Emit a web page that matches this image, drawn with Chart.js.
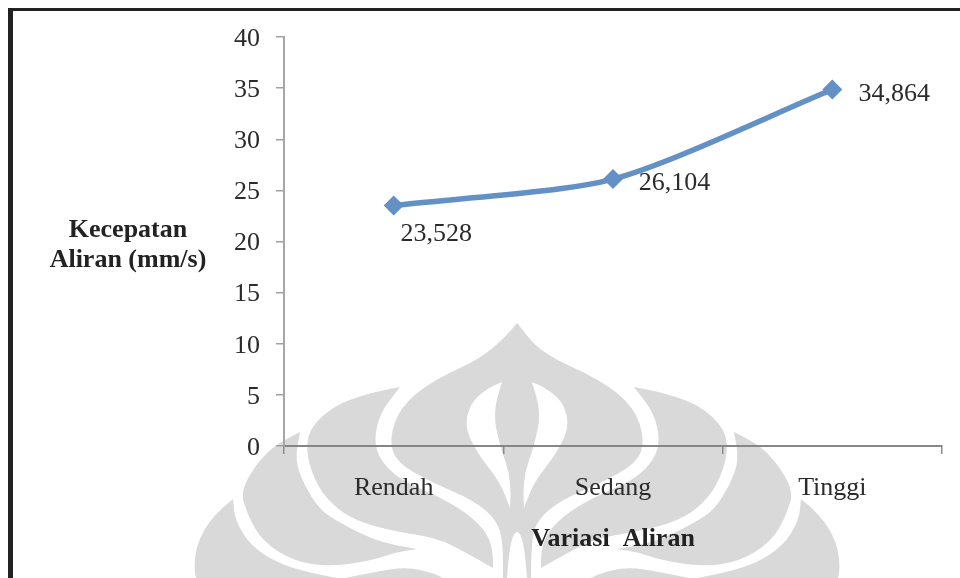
<!DOCTYPE html>
<html>
<head>
<meta charset="utf-8">
<title>Kecepatan Aliran</title>
<script src="https://cdn.jsdelivr.net/npm/chart.js@4"></script>
<style>
    html, body { margin: 0; padding: 0; background: #fff; overflow: hidden; }
    #wadah { position: relative; width: 960px; height: 578px; }
    #grafik { position: absolute; left: 0; top: 0; }
    /* garis tepi halaman, kiri dan atas saja */
    #tepi { position: absolute; left: 8px; top: 8px; right: 0; bottom: 0; border-left: 5px solid #222; border-top: 3px solid #222; }
</style>
</head>
<body>
<div id="wadah">
    <canvas id="grafik" width="960" height="578"></canvas>
    <div id="tepi"></div>
</div>
<script>
const kategori = ['Rendah', 'Sedang', 'Tinggi'];
const kecepatan = [23.528, 26.104, 34.864];
const labelNilai = ['23,528', '26,104', '34,864'];
const judulX = 'Variasi  Aliran';
const judulY = ['Kecepatan', 'Aliran (mm/s)'];

const FONT = '"Liberation Serif", "Times New Roman", serif';
const WARNA_TEKS = '#2b2b2b';

// Logo latar: tiap bagian berisi ruas-ruas kurva, titik sudut ada di ujung ruas
const logoKiri = [
    [[[233, 499], [213, 515], [197, 543], [194, 567], [196, 578]],
     [[196, 578], [337, 578]],
     [[337, 578], [310, 573], [277, 563], [250, 545], [235, 520], [233, 499]]],
    [[[345, 578], [373, 572], [407, 567], [433, 573], [443, 578]]],
    [[[300, 432], [277, 443], [257, 463], [243, 487], [243, 500]],
     [[243, 500], [250, 523], [270, 548], [303, 564], [337, 566], [373, 560], [397, 552], [417, 549]],
     [[417, 549], [393, 545], [370, 538], [340, 523], [320, 510], [304, 485], [295, 460], [300, 432]]],
    [[[400, 387], [350, 396], [312, 423], [305, 450], [317, 487], [338, 510], [360, 522], [393, 531], [437, 538], [465, 552], [493, 568]],
     [[493, 568], [494, 543], [473, 517], [440, 497], [400, 480], [380, 460], [374, 440], [380, 413], [400, 387]]]
];
// Kubah tengah sisi kiri, dari puncak sampai kaki menara putih
const kubahKiri = [[517, 323], [493, 353], [433, 380], [400, 407], [389, 440], [397, 463], [433, 483], [473, 500], [497, 520], [503, 543], [503, 578]];
const celahKiri = [
    [[502, 382], [477, 392], [463, 423], [477, 453], [500, 482], [510, 508]],
    [[510, 508], [512, 480], [500, 447], [493, 413], [502, 382]]
];
const SUMBU_LOGO = 1034;

function kurva(ctx, titik, cermin) {
    const px = p => cermin ? SUMBU_LOGO - p[0] : p[0];
    for (let i = 1; i < titik.length - 1; i++) {
        const mx = (px(titik[i]) + px(titik[i + 1])) / 2;
        const my = (titik[i][1] + titik[i + 1][1]) / 2;
        ctx.quadraticCurveTo(px(titik[i]), titik[i][1], mx, my);
    }
    const akhir = titik[titik.length - 1];
    ctx.lineTo(px(akhir), akhir[1]);
}

function isiBagian(ctx, ruas, cermin) {
    ctx.beginPath();
    ctx.moveTo(cermin ? SUMBU_LOGO - ruas[0][0][0] : ruas[0][0][0], ruas[0][0][1]);
    ruas.forEach(r => kurva(ctx, r, cermin));
    ctx.closePath();
    ctx.fill();
}

const logoLatar = {
    id: 'logoLatar',
    beforeDraw(chart) {
        const ctx = chart.ctx;
        ctx.save();
        ctx.fillStyle = '#d9d9d9';
        [false, true].forEach(cermin => logoKiri.forEach(b => isiBagian(ctx, b, cermin)));

        // kubah: turun di kiri, naik ke ujung menara, turun lagi di kanan
        ctx.beginPath();
        ctx.moveTo(kubahKiri[0][0], kubahKiri[0][1]);
        kurva(ctx, kubahKiri, false);
        ctx.lineTo(507, 578);
        ctx.quadraticCurveTo(510, 532, 517, 532);
        ctx.quadraticCurveTo(524, 532, 527, 578);
        ctx.lineTo(SUMBU_LOGO - 503, 578);
        kurva(ctx, kubahKiri.slice().reverse(), true);
        ctx.closePath();
        ctx.fill();

        ctx.fillStyle = '#fff';
        [false, true].forEach(cermin => isiBagian(ctx, celahKiri, cermin));
        ctx.restore();
    }
};

// Judul sumbu Y mendatar dan label nilai tiap titik
const teksTambahan = {
    id: 'teksTambahan',
    afterDraw(chart) {
        const ctx = chart.ctx;
        ctx.save();
        ctx.fillStyle = '#222';
        ctx.textAlign = 'center';
        ctx.textBaseline = 'alphabetic';
        ctx.font = 'bold 26px ' + FONT;
        ctx.fillText(judulY[0], 128, 237);
        ctx.fillText(judulY[1], 128, 267);

        const geser = [[42.5, 36], [61.5, 11], [62, 11]];
        ctx.fillStyle = WARNA_TEKS;
        ctx.font = '26px ' + FONT;
        chart.getDatasetMeta(0).data.forEach((titik, i) => {
            ctx.fillText(labelNilai[i], titik.x + geser[i][0], titik.y + geser[i][1]);
        });
        ctx.restore();
    }
};

new Chart(document.getElementById('grafik'), {
    type: 'line',
    data: {
        labels: kategori,
        datasets: [{
            data: kecepatan,
            borderColor: '#6391c5',
            backgroundColor: '#6391c5',
            borderWidth: 5.5,
            tension: 0.25,
            pointStyle: 'rectRot',
            pointRadius: 10,
            pointBorderWidth: 0
        }]
    },
    options: {
        responsive: false,
        animation: false,
        layout: { padding: { top: 37, right: 18 } },
        plugins: { legend: { display: false }, tooltip: { enabled: false } },
        scales: {
            x: {
                offset: true,
                afterFit: s => { s.height = 132; },
                grid: { offset: true, drawOnChartArea: false, color: '#8c8c8c', lineWidth: 1.5, tickLength: 8 },
                border: { color: '#868686', width: 2 },
                ticks: { color: WARNA_TEKS, padding: 19, font: { family: FONT, size: 26 } },
                title: {
                    display: true,
                    text: judulX,
                    color: '#222',
                    padding: { top: 0, bottom: 23 },
                    font: { family: FONT, size: 26, weight: 'bold' }
                }
            },
            y: {
                min: 0,
                max: 40,
                afterFit: s => { s.width = 284; },
                grid: { drawOnChartArea: false, color: '#a0a0a0', lineWidth: 1.5, tickLength: 8 },
                border: { color: '#a6a6a6', width: 2 },
                ticks: { stepSize: 5, color: WARNA_TEKS, padding: 16, labelOffset: 2, font: { family: FONT, size: 26 } }
            }
        }
    },
    plugins: [logoLatar, teksTambahan]
});
</script>
</body>
</html>
